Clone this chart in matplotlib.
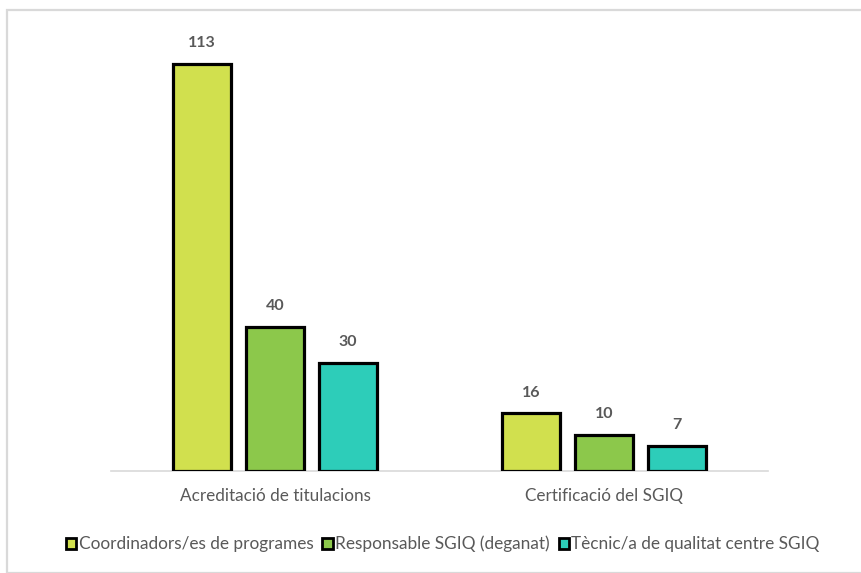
import matplotlib
matplotlib.use("Agg")
import matplotlib.pyplot as plt
from matplotlib.patches import Rectangle, Patch
import numpy as np

categories = ["Acreditació de titulacions", "Certificació del SGIQ"]
series_names = ["Coordinadors/es de programes", "Responsable SGIQ (deganat)",
                "Tècnic/a de qualitat centre SGIQ"]
coordinadors = [113, 16]
responsable = [40, 10]
tecnic = [30, 7]

series_values = [coordinadors, responsable, tecnic]
colors = ["#D1E04E", "#8CC84B", "#2DCDB9"]
text_gray = "#595959"

plt.rcParams["font.family"] = ["Lato", "DejaVu Sans"]

fig = plt.figure(figsize=(8.61, 5.73), dpi=100)
W, H = 861, 573

# chart border
fig.add_artist(Rectangle((7 / W, 0), 1.2, 1 - 10 / H, transform=fig.transFigure,
                         fill=False, edgecolor="#D9D9D9", linewidth=1.6))

ax = fig.add_axes([111 / W, (H - 471) / H, (768 - 111) / W, (471 - 30) / H])
ax.set_xlim(-0.5, 1.5)
ax.set_ylim(0, 122.5)

x = np.arange(len(categories))
step = 0.222
width = 0.177
for j, (vals, col) in enumerate(zip(series_values, colors)):
    pos = x + (j - 1) * step
    bars = ax.bar(pos, vals, width=width, color=col, edgecolor="black",
                  linewidth=2.3, zorder=3)
    for b, v in zip(bars, vals):
        ax.annotate(str(v), (b.get_x() + b.get_width() / 2, v),
                    xytext=(0, 10), textcoords="offset points",
                    ha="center", va="bottom", fontsize=11.5,
                    fontweight="bold", color=text_gray)

for s in ["top", "left", "right"]:
    ax.spines[s].set_visible(False)
ax.spines["bottom"].set_color("#D9D9D9")
ax.spines["bottom"].set_linewidth(1.2)
ax.set_yticks([])
ax.set_xticks(x)
ax.set_xticklabels(categories, fontsize=12.3, color=text_gray)
ax.tick_params(axis="x", length=0, pad=12)

handles = [Patch(facecolor=c, edgecolor="black", linewidth=2.0) for c in colors]
fig.legend(handles, series_names, loc="center", bbox_to_anchor=(443 / W, 1 - 544 / H),
           ncol=3, frameon=False, fontsize=12.4, labelcolor=text_gray,
           handlelength=0.6, handleheight=0.6, handletextpad=0.15,
           columnspacing=0.5, borderpad=0, borderaxespad=0)

fig.savefig("out.png", dpi=100)
